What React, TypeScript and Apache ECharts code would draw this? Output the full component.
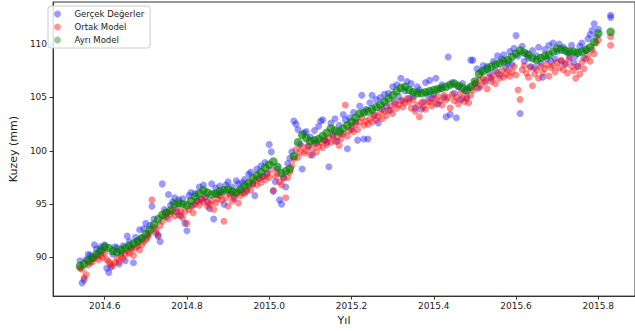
import React, { useEffect, useRef } from "react";
import * as echarts from "echarts";

// ---- data ----
const startYear = 2014.54;
const obsStep = 0.005; // observed & joint model sampling (years)
const modelStep = 0.01; // separate model sampling (years)
const tailYear = 2015.83;

const xTicks = [2014.6, 2014.8, 2015.0, 2015.2, 2015.4, 2015.6, 2015.8];
const yTicks = [90, 95, 100, 105, 110];

const seriesNames = ["Gerçek Değerler", "Ortak Model", "Ayrı Model"];

// Gerçek Değerler (blue)
const observed = [
  89.7, 87.6, 87.9, 89.8, 90.3, 90.2, 89.9, 91.2, 90.8, 90.4,
  91.0, 90.6, 91.2, 89.0, 88.6, 89.1, 90.3, 91.0, 90.9, 89.4,
  90.4, 91.1, 89.7, 92.0, 91.5, 90.9, 89.5, 91.9, 91.6, 92.6,
  91.8, 92.7, 93.2, 92.1, 93.0, 94.8, 93.6, 92.3, 92.0, 91.5,
  96.9, 94.5, 93.8, 95.9, 94.9, 95.2, 95.6, 94.3, 95.4, 93.9,
  95.5, 93.2, 92.5, 95.8, 96.1, 94.9, 96.0, 95.3, 96.6, 95.4,
  96.8, 95.7, 95.2, 94.6, 96.9, 93.6, 96.5, 95.9, 96.7, 96.1,
  95.0, 96.8, 97.1, 96.0, 96.6, 95.5, 97.2, 96.9, 96.3, 97.0,
  97.3, 96.2, 97.8, 98.0, 96.9, 95.8, 98.3, 97.4, 98.6, 97.6,
  98.9, 97.9, 100.6, 99.9, 96.2, 97.1, 98.3, 95.4, 95.0, 97.5,
  96.6, 98.8, 99.3, 99.9, 102.8, 102.5, 102.0, 100.6, 98.3, 101.7,
  101.8, 100.4, 101.3, 99.6, 101.9, 100.7, 102.3, 102.8, 102.9, 101.0,
  100.8, 98.5, 102.6, 101.4, 103.0, 100.9, 102.4, 101.6, 103.4, 102.9,
  100.2, 103.1, 102.0, 103.6, 102.7, 101.0, 104.2, 105.2, 101.1, 103.9,
  101.1, 104.5, 105.2, 103.3, 104.8, 102.6, 105.0, 103.9, 105.3, 104.2,
  105.4, 103.8, 106.0, 104.6, 106.2, 105.1, 106.8, 104.7, 105.6, 106.5,
  104.9, 106.3, 105.1, 104.0, 106.0, 105.7, 103.9, 104.6, 106.4, 105.2,
  106.6, 104.9, 105.3, 106.8, 104.4, 105.8, 106.2, 105.0, 103.2, 108.8,
  103.4, 106.4, 105.4, 103.1, 106.0, 104.8, 106.3, 105.6, 104.9, 105.9,
  108.5, 108.5, 106.3, 107.7, 105.9, 107.4, 108.0, 106.6, 107.9, 107.3,
  106.8, 108.4, 107.5, 108.9, 107.1, 108.6, 109.0, 107.8, 108.2, 109.3,
  108.1, 109.6, 110.8, 108.9, 103.5, 109.8, 108.4, 109.1, 108.7, 107.9,
  109.4, 107.8, 108.9, 109.7, 108.2, 106.9, 109.5, 108.6, 109.9, 108.4,
  110.1, 108.6, 109.3, 110.0, 108.4, 109.7, 108.1, 109.2, 108.8, 109.9,
  108.3, 108.9, 107.9, 109.8, 110.1, 108.7, 109.4, 110.5, 110.9, 111.3,
  111.9, 110.7, 111.4,
];

// Ortak Model (red)
const jointModel = [
  89.0, 88.9, 88.1, 88.4, 89.3, 89.5, 89.6, 89.9, 90.1, 89.8,
  90.2, 90.0, 90.4, 89.8, 89.6, 89.4, 89.2, 89.5, 89.9, 89.6,
  90.1, 89.9, 90.3, 90.6, 90.4, 90.8, 90.2, 90.9, 91.1, 90.7,
  91.2, 91.5, 91.7, 91.9, 92.3, 95.4, 92.8, 92.6, 92.1, 93.0,
  93.4, 93.9, 94.2, 93.6, 94.1, 94.4, 93.9, 94.6, 94.0, 94.3,
  93.7, 94.3, 93.2, 94.5, 94.8, 94.2, 95.0, 95.3, 94.9, 95.5,
  95.2, 95.6, 94.8, 95.0, 95.3, 94.5, 95.1, 95.5, 95.8, 95.4,
  93.4, 95.6, 94.8, 95.9, 95.3, 95.7, 96.0, 95.1, 95.8, 96.1,
  96.0, 96.4, 96.7, 96.3, 96.9, 97.2, 96.8, 97.4, 97.0, 97.6,
  97.3, 97.8, 97.5, 98.2, 96.3, 97.6, 97.9, 97.1, 96.8, 97.4,
  95.6, 97.5, 98.0, 98.6, 99.2, 100.1, 99.4, 99.9, 100.4, 99.8,
  100.0, 100.5, 99.6, 100.2, 100.7, 99.9, 100.4, 100.8, 100.3, 101.0,
  100.6, 101.2, 100.8, 101.5, 100.9, 101.3, 100.5, 101.1, 101.6, 104.3,
  101.4, 101.9, 102.3, 101.8, 102.5, 102.0, 102.7, 103.1, 102.4, 102.8,
  102.5, 103.0, 102.7, 103.4, 102.9, 103.2, 103.6, 103.0, 103.7, 103.3,
  103.8, 104.2, 103.5, 104.4, 104.0, 104.3, 104.7, 104.1, 104.5, 104.9,
  104.6, 104.0, 104.8, 103.7, 104.3, 103.2, 104.5, 104.1, 103.9, 104.6,
  104.6, 104.2, 104.9, 104.4, 105.1, 104.7, 104.3, 105.2, 104.8, 105.0,
  104.0, 105.3, 104.7, 105.0, 104.4, 105.4, 104.9, 104.6, 105.1, 104.5,
  105.2, 105.7, 106.3, 105.9, 106.6, 106.1, 106.8, 106.4, 105.8, 106.9,
  106.5, 107.0, 106.3, 107.3, 106.8, 107.5, 106.9, 107.2, 107.6, 107.0,
  107.4, 107.9, 107.1, 105.7, 104.8, 107.6, 108.0, 107.3, 106.9, 107.8,
  106.1, 107.2, 107.6, 106.8, 107.9, 107.3, 107.7, 108.1, 107.0, 107.8,
  108.0, 107.4, 108.3, 107.8, 108.5, 107.6, 108.2, 107.3, 108.6, 107.9,
  107.5, 106.8, 107.9, 107.2, 108.3, 107.7, 108.6, 109.0, 108.4, 109.5,
  109.1, 110.1, 110.4,
];

// Ayrı Model (green)
const separateModel = [
  89.2, 89.4, 89.7, 90.0, 90.3, 90.7, 91.0, 90.9, 90.6, 90.5,
  90.7, 90.9, 91.1, 91.3, 91.5, 91.8, 92.2, 92.6, 93.1, 93.6,
  94.0, 94.2, 94.4, 95.0, 95.1, 95.0, 94.9, 95.3, 95.7, 96.0,
  96.3, 96.1, 95.9, 96.0, 96.2, 96.3, 96.4, 96.2, 96.1, 96.4,
  96.7, 97.0, 97.4, 97.7, 98.0, 98.4, 98.7, 99.0, 98.5, 97.9,
  98.1, 98.3, 99.5, 100.8, 101.5, 101.2, 100.9, 101.0, 101.1, 101.4,
  101.7, 102.1, 101.9, 101.8, 102.1, 102.4, 102.7, 103.1, 103.5, 103.6,
  103.7, 103.9, 104.1, 104.3, 104.6, 104.9, 105.2, 105.6, 105.9, 106.0,
  105.7, 105.5, 105.4, 105.4, 105.5, 105.6, 105.7, 105.8, 105.9, 106.0,
  106.2, 106.3, 106.1, 105.9, 105.7, 106.0, 106.5, 107.2, 107.5, 107.7,
  107.9, 108.1, 108.2, 108.4, 108.5, 108.8, 109.1, 109.4, 109.2, 109.0,
  108.7, 108.5, 108.7, 108.9, 109.0, 109.3, 109.6, 109.5, 109.4, 109.3,
  109.3, 109.2, 109.3, 109.5, 109.7, 110.2, 111.0,
];

const observedTail = [112.7, 112.5];
const jointTail = [110.7, 109.9];
const separateTail = [111.15];

function toPoints(values: number[], step: number, tail: number[]) {
  const pts: number[][] = values.map((v, i) => [
    Number((startYear + i * step).toFixed(4)),
    v,
  ]);
  tail.forEach((v) => pts.push([tailYear, v]));
  return pts;
}

export default function App() {
  const ref = useRef<HTMLDivElement>(null);

  useEffect(() => {
    if (!ref.current) return;
    const chart = echarts.init(ref.current, undefined, { renderer: "svg" });
    const font = "DejaVu Sans";
    const legendColors = [
      "rgba(0,0,255,0.5)",
      "rgba(255,0,0,0.5)",
      "rgba(0,128,0,0.5)",
    ];
    chart.setOption({
      animation: false,
      backgroundColor: "#ffffff",
      textStyle: { fontFamily: font },
      grid: {
        left: 44,
        top: 2,
        width: 592,
        height: 295,
        show: true,
        borderColor: "#333",
        borderWidth: 1,
        backgroundColor: "transparent",
      },
      legend: {
        show: true,
        orient: "vertical",
        left: 48,
        top: 6,
        data: seriesNames.map((n, i) => ({
          name: n,
          itemStyle: { color: legendColors[i] },
        })),
        icon: "circle",
        itemWidth: 14,
        itemHeight: 7,
        itemGap: 1,
        padding: [2, 6, 2, 6],
        backgroundColor: "rgba(255,255,255,0.85)",
        borderColor: "#cccccc",
        borderWidth: 1,
        borderRadius: 3,
        textStyle: {
          fontFamily: font,
          fontSize: 8.5,
          color: "#222",
          lineHeight: 12,
          padding: [0, 0, 0, 5],
        },
      },
      xAxis: {
        type: "value",
        min: 2014.4746,
        max: 2015.8892,
        name: "Yıl",
        nameLocation: "middle",
        nameGap: 16,
        nameTextStyle: { fontFamily: font, fontSize: 11, color: "#222" },
        axisLine: { show: true, lineStyle: { color: "#333", width: 1 } },
        axisTick: {
          show: true,
          length: 3.5,
          inside: false,
          customValues: xTicks,
          lineStyle: { color: "#333" },
        },
        axisLabel: {
          show: true,
          customValues: xTicks,
          margin: 5,
          fontFamily: font,
          fontSize: 9,
          color: "#222",
          formatter: (v: number) => v.toFixed(1),
        },
        splitLine: { show: false },
      },
      yAxis: {
        type: "value",
        min: 86.38,
        max: 113.95,
        name: "Kuzey (mm)",
        nameLocation: "middle",
        nameGap: 26,
        nameRotate: 90,
        nameTextStyle: { fontFamily: font, fontSize: 11, color: "#222" },
        axisLine: { show: true, lineStyle: { color: "#333", width: 1 } },
        axisTick: {
          show: true,
          length: 3.5,
          inside: false,
          customValues: yTicks,
          lineStyle: { color: "#333" },
        },
        axisLabel: {
          show: true,
          customValues: yTicks,
          margin: 6,
          fontFamily: font,
          fontSize: 9,
          color: "#222",
        },
        splitLine: { show: false },
      },
      series: [
        {
          name: seriesNames[0],
          type: "scatter",
          symbolSize: 7,
          data: toPoints(observed, obsStep, observedTail),
          itemStyle: { color: "rgba(0,0,255,0.5)" },
        },
        {
          name: seriesNames[1],
          type: "scatter",
          symbolSize: 7,
          data: toPoints(jointModel, obsStep, jointTail),
          itemStyle: { color: "rgba(255,0,0,0.55)" },
        },
        {
          name: seriesNames[2],
          type: "scatter",
          symbolSize: 8.5,
          data: toPoints(separateModel, modelStep, separateTail),
          itemStyle: { color: "rgba(0,128,0,0.82)" },
        },
      ],
    });
    return () => chart.dispose();
  }, []);

  return (
    <div
      ref={ref}
      style={{ position: "absolute", left: 0, top: 0, width: 635, height: 331 }}
    />
  );
}
